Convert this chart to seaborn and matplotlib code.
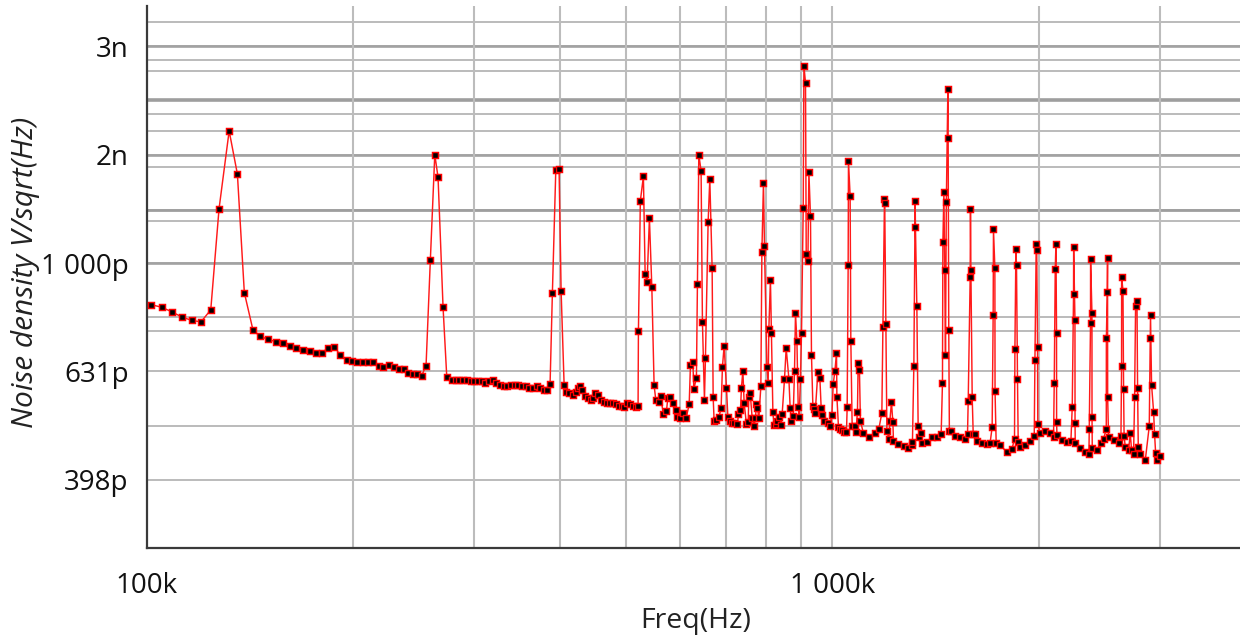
import matplotlib
matplotlib.use("Agg")
import matplotlib.pyplot as plt
from matplotlib.ticker import FixedLocator, FixedFormatter, NullFormatter
import pandas as pd
import seaborn as sns

# Noise density sweep: frequency in kHz, noise density in pV/sqrt(Hz)
freq_khz = [
    101.5, 105.2, 109.0, 112.6, 116.3, 120.0, 124.0, 127.5, 131.9, 135.6,
    138.8, 142.9, 146.3, 150.3, 154.3, 157.9, 161.8, 164.9, 169.0, 173.0,
    176.5, 180.1, 184.0, 187.8, 191.4, 195.8, 199.5, 202.9, 206.6, 210.3,
    214.1, 218.0, 221.4, 225.9, 229.7, 233.3, 237.1, 240.7, 244.3, 247.9,
    251.8, 255.5, 259.2, 263.1, 266.0, 270.5, 273.9, 278.5, 282.3, 285.7,
    289.3, 293.3, 296.9, 300.5, 304.3, 308.1, 311.8, 315.7, 319.6, 323.6,
    327.6, 331.7, 335.8, 340.0, 344.2, 348.3, 352.7, 357.1, 361.5, 366.0,
    370.6, 375.1, 379.8, 383.7, 387.5, 390.5, 395.0, 399.4, 402.1, 406.2,
    409.4, 413.5, 418.3, 422.5, 425.7, 428.9, 431.9, 435.4, 439.8, 444.3,
    448.2, 451.2, 455.3, 459.4, 464.1, 469.3, 474.5, 478.8, 483.2, 488.0,
    492.9, 497.3, 502.4, 506.9, 512.1, 516.8, 520.7, 521.3, 524.7, 530.1,
    533.2, 536.7, 540.9, 545.3, 549.5, 552.7, 558.3, 562.0, 566.4, 572.7,
    575.4, 580.4, 585.8, 591.1, 594.3, 599.7, 605.2, 612.0, 618.2, 620.8,
    625.9, 628.0, 633.4, 635.5, 638.5, 643.4, 646.3, 650.7, 652.9, 658.8,
    662.5, 667.7, 670.0, 672.2, 677.4, 683.5, 688.2, 691.2, 695.2, 700.6,
    703.9, 708.6, 714.9, 719.7, 727.0, 729.4, 734.3, 736.8, 740.3, 743.5,
    749.3, 753.6, 755.3, 758.6, 763.8, 769.0, 772.3, 774.9, 777.5, 781.1,
    786.4, 789.1, 793.3, 796.0, 802.5, 805.9, 807.8, 812.1, 814.9, 818.8,
    821.5, 827.1, 831.5, 836.2, 841.9, 844.7, 851.3, 856.2, 864.0, 867.7,
    871.6, 876.6, 880.5, 883.4, 887.6, 891.5, 894.4, 898.3, 901.4, 906.6,
    908.7, 913.6, 915.8, 921.0, 924.0, 929.0, 932.1, 936.5, 939.7, 943.8,
    952.3, 958.7, 962.9, 967.1, 973.7, 984.9, 991.4, 998.2, 1002.6, 1008.3,
    1013.8, 1015.1, 1020.5, 1027.3, 1034.4, 1041.4, 1048.4, 1050.8, 1054.3, 1055.4,
    1061.3, 1063.8, 1068.5, 1078.3, 1081.9, 1087.7, 1090.3, 1095.0, 1098.6, 1109.9,
    1132.4, 1154.4, 1168.8, 1180.6, 1184.6, 1191.0, 1192.0, 1196.7, 1200.7, 1208.7,
    1212.7, 1219.3, 1225.1, 1227.6, 1248.4, 1269.6, 1290.9, 1305.6, 1308.3, 1314.5,
    1320.3, 1321.6, 1327.8, 1333.6, 1339.4, 1345.7, 1350.3, 1373.3, 1396.5, 1420.2,
    1440.7, 1447.1, 1449.1, 1454.0, 1458.0, 1461.8, 1466.0, 1473.6, 1475.0, 1478.0,
    1481.0, 1490.0, 1510.3, 1535.7, 1562.0, 1574.0, 1577.7, 1588.2, 1589.8, 1592.0,
    1599.0, 1604.5, 1615.4, 1624.6, 1652.0, 1679.8, 1698.2, 1709.8, 1715.6, 1717.4,
    1725.5, 1726.5, 1733.0, 1756.3, 1796.6, 1827.0, 1843.1, 1845.6, 1851.8, 1855.5,
    1861.7, 1866.1, 1878.5, 1910.6, 1942.7, 1969.3, 1973.9, 1982.5, 1985.8, 1991.2,
    1993.0, 2009.0, 2043.0, 2077.8, 2101.2, 2106.2, 2113.3, 2118.3, 2122.5, 2123.0,
    2125.4, 2161.3, 2198.0, 2227.5, 2237.4, 2247.2, 2248.0, 2257.9, 2258.5, 2260.2,
    2298.1, 2337.4, 2366.5, 2368.8, 2379.1, 2379.5, 2390.5, 2391.0, 2393.0, 2431.1,
    2463.8, 2485.6, 2508.3, 2509.0, 2516.7, 2519.0, 2520.0, 2527.6, 2570.6, 2614.0,
    2635.0, 2640.5, 2641.0, 2653.0, 2658.4, 2663.0, 2673.7, 2703.3, 2718.6, 2730.7,
    2749.2, 2758.5, 2767.7, 2780.7, 2786.3, 2792.8, 2811.3, 2859.4, 2897.8, 2907.4,
    2910.0, 2920.3, 2940.2, 2950.1, 2960.1, 2974.0, 3006.8,
]

noise_pv = [
    838, 829, 812, 795, 784, 779, 820, 1260, 1754, 1460,
    882, 752, 733, 723, 716, 711, 703, 697, 690, 687,
    683, 683, 698, 701, 677, 663, 660, 656, 656, 656,
    656, 647, 643, 649, 643, 637, 637, 628, 623, 623,
    620, 647, 1012, 1586, 1440, 830, 617, 608, 608, 608,
    608, 608, 605, 605, 605, 605, 601, 606, 608, 602,
    596, 592, 592, 596, 596, 596, 592, 592, 589, 589,
    592, 589, 584, 584, 599, 880, 1485, 1490, 889, 596,
    578, 575, 572, 578, 587, 592, 584, 568, 563, 560,
    564, 575, 572, 560, 555, 551, 551, 551, 549, 545,
    545, 542, 551, 549, 545, 542, 545, 748, 1303, 1446,
    954, 923, 1210, 904, 595, 558, 554, 569, 527, 533,
    563, 567, 552, 535, 520, 517, 529, 518, 549, 648,
    656, 586, 614, 914, 1585, 1481, 779, 559, 669, 1191,
    1429, 980, 566, 511, 514, 521, 541, 643, 704, 589,
    521, 511, 507, 507, 505, 526, 535, 589, 633, 552,
    504, 508, 566, 577, 518, 501, 518, 549, 540, 517,
    592, 1048, 1407, 1075, 643, 601, 757, 931, 742, 532,
    502, 505, 511, 520, 502, 526, 610, 697, 612, 541,
    511, 522, 633, 808, 719, 542, 521, 611, 742, 1265,
    2312, 2153, 1039, 1007, 1474, 1222, 677, 545, 537, 529,
    629, 614, 541, 524, 512, 507, 501, 524, 598, 631,
    683, 567, 499, 495, 492, 488, 488, 543, 991, 1543,
    1330, 719, 501, 500, 487, 532, 655, 635, 511, 485,
    478, 486, 495, 529, 761, 1311, 1293, 772, 490, 474,
    511, 554, 508, 469, 463, 459, 456, 461, 467, 646,
    1303, 1166, 833, 500, 477, 485, 465, 468, 477, 478,
    483, 601, 1092, 1351, 971, 677, 1298, 2100, 1702, 752,
    490, 489, 480, 477, 474, 483, 557, 941, 1260, 971,
    566, 483, 483, 470, 465, 463, 466, 498, 803, 1154,
    980, 581, 466, 461, 448, 453, 474, 693, 1060, 991,
    610, 467, 458, 461, 470, 479, 662, 1086, 1058, 701,
    504, 485, 490, 485, 478, 601, 976, 1086, 744, 508,
    481, 471, 468, 470, 543, 877, 1069, 785, 506, 466,
    455, 448, 445, 495, 776, 1017, 808, 520, 456, 452,
    465, 473, 495, 726, 885, 1022, 565, 477, 471, 466,
    479, 646, 941, 890, 585, 479, 458, 452, 485, 452,
    445, 565, 833, 850, 589, 457, 445, 433, 500, 726,
    803, 596, 532, 483, 447, 433, 441,
]

# Axis tick values and their printed labels
x_major_khz = [100, 1000]
x_major_labels = ["100k", "1 000k"]
x_minor_khz = [200, 300, 400, 500, 600, 700, 800, 900, 2000, 3000]

y_major_pv = [398.1, 631.0, 1000.0, 1584.9, 2511.9]
y_major_labels = ["398p", "631p", "1 000p", "2n", "3n"]
y_minor_pv = [500, 750, 794, 1194, 1253, 1502, 1751, 1887, 2000, 2260, 2374, 2783]
y_heavy_pv = [1000.0, 1584.9, 2511.9]
y_extra_heavy_pv = [2000, 1253]

sns.set_style("white")
plt.rcParams["font.family"] = ["Open Sans", "DejaVu Sans"]

W, H = 1240, 641
fig = plt.figure(figsize=(W / 100, H / 100), dpi=100)
left, bottom_px, top_px = 146.7, 548.0, 5.7
ax = fig.add_axes([left / W, 1 - bottom_px / H, 1 - left / W, (bottom_px - top_px) / H])

df = pd.DataFrame({"freq": freq_khz, "noise": noise_pv})

ax.set_xscale("log")
ax.set_yscale("log")

# grid
ax.set_axisbelow(True)
for v in y_major_pv + y_minor_pv:
    ax.axhline(v, color="#afafaf", lw=1.2, zorder=0)
for v in y_heavy_pv:
    ax.axhline(v, color="#a2a2a2", lw=1.9, zorder=0)
for v in y_extra_heavy_pv:
    ax.axhline(v, color="#9e9e9e", lw=2.6 if v == 2000 else 2.0, zorder=0)
for v in x_major_khz[1:] + x_minor_khz:
    ax.axvline(v, color="#bcbcbc", lw=1.5, zorder=0)

sns.lineplot(
    data=df, x="freq", y="noise", ax=ax, sort=False, estimator=None,
    color="#ff1a1a", lw=1.05, marker="s", markersize=3.7,
    markerfacecolor="black", markeredgecolor="#ff0000", markeredgewidth=1.05,
    zorder=3,
)

ax.set_xlim(100, 3930)
ax.set_ylim(298, 2986)

ax.xaxis.set_major_locator(FixedLocator(x_major_khz))
ax.xaxis.set_major_formatter(FixedFormatter(x_major_labels))
ax.xaxis.set_minor_locator(FixedLocator(x_minor_khz))
ax.xaxis.set_minor_formatter(NullFormatter())
ax.yaxis.set_major_locator(FixedLocator(y_major_pv))
ax.yaxis.set_major_formatter(FixedFormatter(y_major_labels))
ax.yaxis.set_minor_locator(FixedLocator(y_minor_pv))
ax.yaxis.set_minor_formatter(NullFormatter())

ax.grid(False)
ax.set_xlabel("")
ax.set_ylabel("")

for side in ("top", "right"):
    ax.spines[side].set_visible(False)
for side in ("left", "bottom"):
    ax.spines[side].set_color("#3a3a3a")
    ax.spines[side].set_linewidth(1.6)

ax.tick_params(axis="x", which="major", direction="out", length=7.5, width=1.3,
               color="#3a3a3a", pad=9.5, labelsize=20, labelcolor="#111111")
ax.tick_params(axis="x", which="minor", direction="out", length=4.5, width=1.3,
               color="#3a3a3a")
ax.tick_params(axis="y", which="major", direction="out", length=8, width=1.3,
               color="#3a3a3a", pad=5, labelsize=20, labelcolor="#111111")
ax.tick_params(axis="y", which="minor", direction="out", length=4.5, width=1.3,
               color="#3a3a3a")

fig.text(696 / W, 1 - 621 / H, "Freq(Hz)", ha="center", va="center",
         fontsize=20.5, color="#222222")
fig.text(26 / W, 1 - 272 / H, "Noise density V/sqrt(Hz)", ha="center", va="center",
         rotation=90, fontsize=21.5, style="italic", color="#222222")

fig.savefig("out.png", dpi=100)
